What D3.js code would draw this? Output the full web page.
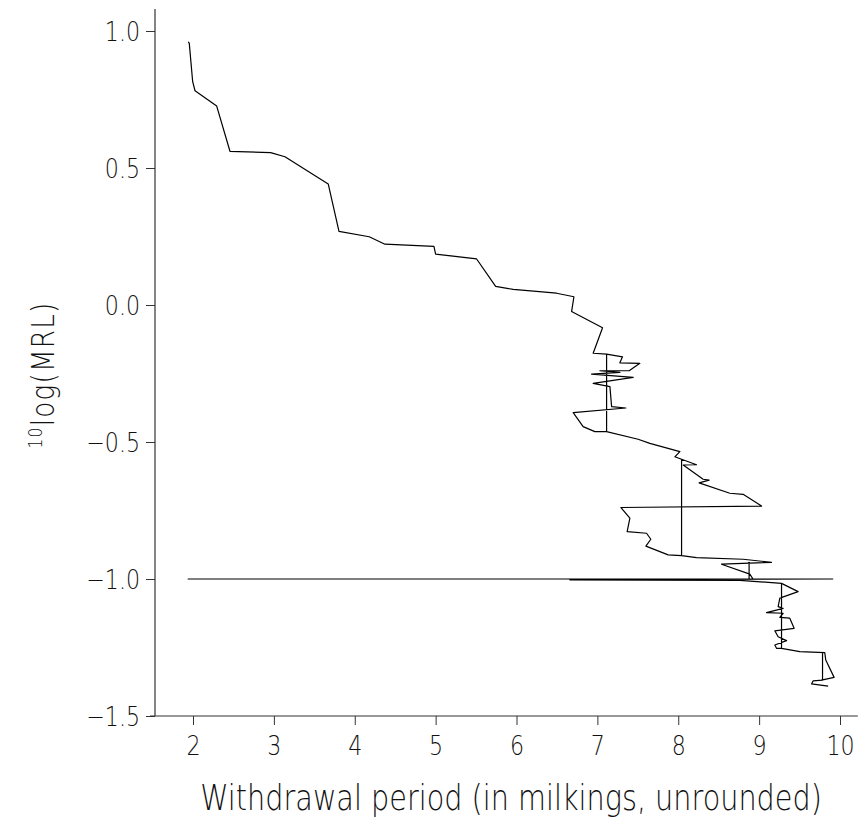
<!DOCTYPE html>
<html>
<head>
<meta charset="utf-8">
<script src="https://cdn.jsdelivr.net/npm/d3@7"></script>
<style>
  body { margin: 0; background: #fff; }
  text { font-family: "DejaVu Sans", sans-serif; font-weight: 200; font-stretch: condensed; fill: #111; }
</style>
</head>
<body>
<div id="chart"></div>
<script>
// withdrawal period (milkings, unrounded) vs 10log(MRL), traced in path order
const withdrawal = [
  1.942, 1.954, 1.996, 2.025, 2.293, 2.457, 2.960, 3.137, 3.672, 3.805,
  4.179, 4.373, 4.979, 5.000, 5.507, 5.742, 5.959, 6.496, 6.710, 6.681,
  7.064, 6.948, 7.114, 7.311, 7.278, 7.525, 7.393, 7.031, 7.278, 6.928,
  7.443, 6.948, 7.155, 7.176, 7.352, 6.701, 6.824, 6.969, 7.114, 7.114,
  7.114, 7.504, 7.649, 8.020, 7.958, 8.041, 8.226, 8.061, 8.308, 8.382,
  8.258, 8.638, 8.802, 9.030, 7.290, 7.402, 7.368, 7.608, 7.661, 7.600,
  7.875, 8.041, 8.041, 8.041, 8.226, 8.802, 9.153, 8.535, 8.885, 8.926,
  8.876, 8.876, 8.876, 1.940, 9.910, 6.660, 8.761, 9.277, 9.482, 9.256,
  9.235, 9.297, 9.091, 9.297, 9.256, 9.379, 9.433, 9.194, 9.235, 9.339,
  9.194, 9.215, 9.277, 9.277, 9.277, 9.503, 9.812, 9.824, 9.927, 9.771,
  9.784, 9.784, 9.784, 9.667, 9.648, 9.853
];
const logMRL = [
  0.961, 0.955, 0.815, 0.782, 0.726, 0.561, 0.556, 0.541, 0.442, 0.269,
  0.249, 0.222, 0.214, 0.186, 0.168, 0.068, 0.057, 0.043, 0.030, -0.024,
  -0.083, -0.176, -0.179, -0.189, -0.211, -0.213, -0.240, -0.240, -0.246, -0.252,
  -0.264, -0.286, -0.298, -0.371, -0.376, -0.393, -0.444, -0.462, -0.462, -0.179,
  -0.462, -0.490, -0.505, -0.535, -0.554, -0.563, -0.583, -0.584, -0.636, -0.639,
  -0.649, -0.687, -0.691, -0.734, -0.739, -0.778, -0.827, -0.833, -0.855, -0.880,
  -0.912, -0.915, -0.563, -0.915, -0.922, -0.928, -0.939, -0.946, -0.982, -1.001,
  -1.000, -0.939, -1.000, -1.000, -1.000, -1.003, -1.005, -1.016, -1.046, -1.070,
  -1.101, -1.107, -1.123, -1.125, -1.140, -1.143, -1.180, -1.189, -1.211, -1.225,
  -1.241, -1.253, -1.253, -1.016, -1.253, -1.265, -1.269, -1.296, -1.359, -1.369,
  -1.369, -1.269, -1.369, -1.372, -1.383, -1.391
];

const xTicks = [2, 3, 4, 5, 6, 7, 8, 9, 10];
const yTicks = [1.0, 0.5, 0.0, -0.5, -1.0, -1.5];
const xAxisExtent = [1.468, 10.22];
const yAxisExtent = [-1.5, 1.08];

const width = 859, height = 822;
const axisX = 155, axisY = 716;
const squeeze = 0.82; // condensed look of the original lettering

const svg = d3.select("#chart").append("svg")
    .attr("width", width)
    .attr("height", height);

const x = d3.scaleLinear().domain([2, 10]).range([193, 840]);
const y = d3.scaleLinear().domain([-1.5, 1.0]).range([716, 31]);

// x axis
const gx = svg.append("g")
    .attr("transform", `translate(0,${axisY})`)
    .call(d3.axisBottom(x).tickValues(xTicks).tickSize(9).tickFormat(d3.format("d")));
gx.select(".domain").remove();
gx.append("line")
    .attr("x1", x(xAxisExtent[0])).attr("x2", x(xAxisExtent[1]))
    .attr("stroke", "#333").attr("stroke-width", 1.2);
gx.selectAll(".tick line").attr("stroke", "#333");
gx.selectAll(".tick text")
    .attr("y", 39)
    .attr("dy", 0)
    .attr("transform", `scale(${squeeze},1)`)
    .style("font-size", "27px");

// y axis
const gy = svg.append("g")
    .attr("transform", `translate(${axisX},0)`)
    .call(d3.axisLeft(y).tickValues(yTicks).tickSize(9).tickFormat(d3.format(".1f")));
gy.select(".domain").remove();
gy.append("line")
    .attr("y1", y(yAxisExtent[0])).attr("y2", y(yAxisExtent[1]))
    .attr("stroke", "#333").attr("stroke-width", 1.2);
gy.selectAll(".tick line").attr("stroke", "#333");
gy.selectAll(".tick text")
    .attr("x", -15 / squeeze)
    .attr("dy", "0.36em")
    .attr("transform", `scale(${squeeze},1)`)
    .style("font-size", "27px");

// the data path
const pts = withdrawal.map((w, i) => [w, logMRL[i]]);
svg.append("path")
    .datum(pts)
    .attr("fill", "none")
    .attr("stroke", "#000")
    .attr("stroke-width", 1.2)
    .attr("stroke-linejoin", "round")
    .attr("d", d3.line().x(d => x(d[0])).y(d => y(d[1])));

// axis titles
svg.append("text")
    .attr("transform", `translate(511,810) scale(${squeeze},1)`)
    .attr("text-anchor", "middle")
    .style("font-size", "35px")
    .text("Withdrawal period (in milkings, unrounded)");

const yl = svg.append("text")
    .attr("transform", `translate(54,375) rotate(-90) scale(${squeeze},1)`)
    .attr("text-anchor", "middle")
    .style("font-size", "32px")
    .style("letter-spacing", "1.5px");
yl.append("tspan").attr("dy", -12).style("font-size", "19px").text("10");
yl.append("tspan").attr("dy", 12).text("log(MRL)");
</script>
</body>
</html>
